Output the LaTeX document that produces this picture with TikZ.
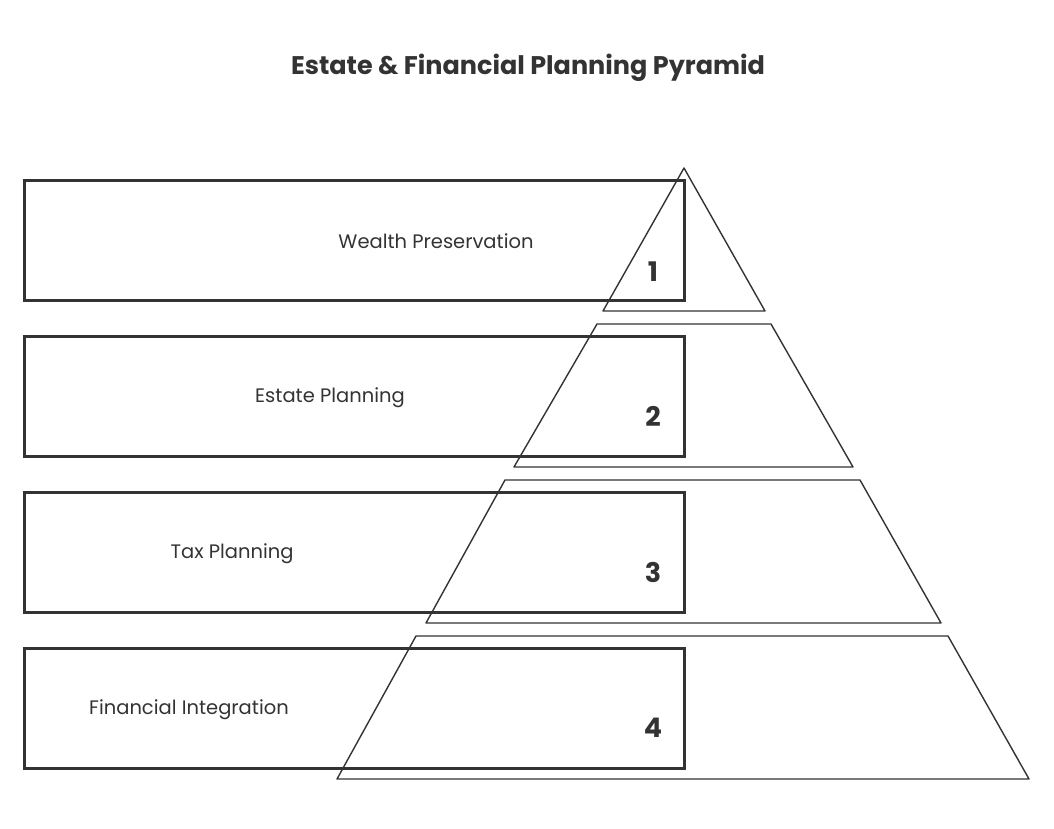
\documentclass[tikz,border=0pt]{standalone}
\usepackage{fontspec}
\setmainfont{Poppins}
\begin{document}
\begin{tikzpicture}[x=1pt,y=-1pt,
  band/.style={draw=black!80, line width=3pt},
  tier/.style={draw=black!80, line width=1.4pt, line join=round},
  lbl/.style={font=\fontsize{19.5}{21}\selectfont, text=black!80},
  num/.style={font=\bfseries\fontsize{27}{29}\selectfont, text=black!80}]
\useasboundingbox (0,0) rectangle (1054,828);
\node[font=\bfseries\fontsize{25.5}{28}\selectfont, text=black!80] (title) at (528,68) {Estate \& Financial Planning Pyramid};
\draw[band] (24,180) rectangle (684,300);
\draw[band] (24,336) rectangle (684,456);
\draw[band] (24,492) rectangle (684,612);
\draw[band] (24,648) rectangle (684,768);
\draw[tier] (684,168) -- (765,311) -- (603,311) -- cycle;
\draw[tier] (597,324) -- (771,324) -- (853,467) -- (514,467) -- cycle;
\draw[tier] (505,480) -- (860,480) -- (941,623) -- (426,623) -- cycle;
\draw[tier] (416,636) -- (948,636) -- (1029,779) -- (337,779) -- cycle;
\node[lbl] (l1) at (436,241) {Wealth Preservation};
\node[lbl] (l2) at (330,398) {Estate Planning};
\node[lbl] (l3) at (232,554) {Tax Planning};
\node[lbl] (l4) at (189,710) {Financial Integration};
\node[num] (n1) at (653,272) {1};
\node[num] (n2) at (653,416) {2};
\node[num] (n3) at (653,572) {3};
\node[num] (n4) at (653,728) {4};
\end{tikzpicture}
\end{document}
